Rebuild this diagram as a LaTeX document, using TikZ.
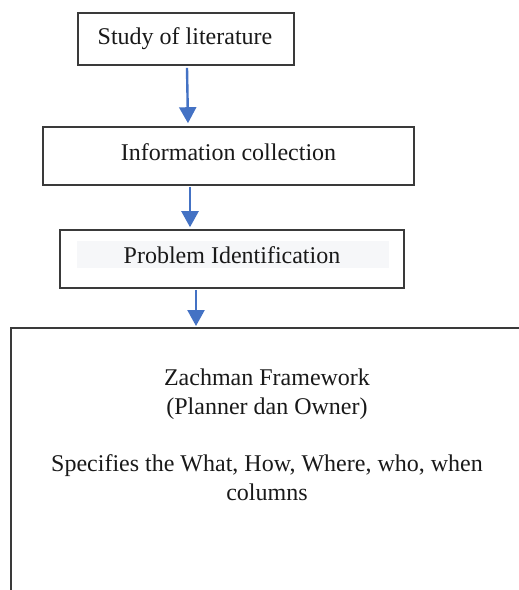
\documentclass[tikz,border=0pt]{standalone}
\usepackage{fontspec}
\setmainfont{Liberation Serif}
\usetikzlibrary{arrows.meta}
\definecolor{arrowblue}{HTML}{4472C4}
\definecolor{boxline}{HTML}{3A3A3A}
\definecolor{shade}{HTML}{F6F7F9}
\begin{document}
\begin{tikzpicture}[x=0.5pt,y=-0.5pt,
  stepbox/.style={draw=boxline,line width=0.8pt,minimum width=#1,inner sep=0pt},
  txt/.style={font=\fontsize{12}{14.5}\selectfont,align=center,inner sep=0pt,text=black!90},
  flow/.style={draw=arrowblue,line width=1.2pt,-{Triangle[width=8.5pt,length=8pt]}}]
\useasboundingbox (0,0) rectangle (519,590);
\node[stepbox=108pt,minimum height=26pt] (b1) at (186,39) {};
\node[txt] (t1) at (185,39) {Study of literature};
\node[stepbox=185.5pt,minimum height=29pt] (b2) at (228.5,156) {};
\node[txt] (t2) at (228.5,152) {Information collection};
\node[stepbox=172pt,minimum height=29pt] (b3) at (232,259) {};
\node[fill=shade,minimum width=156pt,minimum height=13.5pt,inner sep=0pt] (g3) at (233,254.5) {};
\node[txt] (t3) at (232,255) {Problem Identification};
\coordinate (bigtop) at (196,328);
\draw[draw=boxline,line width=0.8pt] (11,600) -- (11,328) -- (530,328);
\node[txt] (t4) at (267,394) {Zachman Framework\\(Planner dan Owner)};
\node[txt] (t5) at (267,478) {Specifies the What, How, Where, who, when\\columns};
\draw[flow] ([xshift=0.5pt,yshift=-1pt]b1.south) -- ([xshift=1pt,yshift=1.5pt]b2.north -| b1.south);
\draw[flow] ([xshift=2pt,yshift=-0.5pt]b2.south -| b1.south) -- ([xshift=2pt,yshift=1pt]b3.north -| b1.south);
\draw[flow] ([yshift=-0.5pt]b3.south -| bigtop) -- ([yshift=1pt]bigtop);
\end{tikzpicture}
\end{document}
